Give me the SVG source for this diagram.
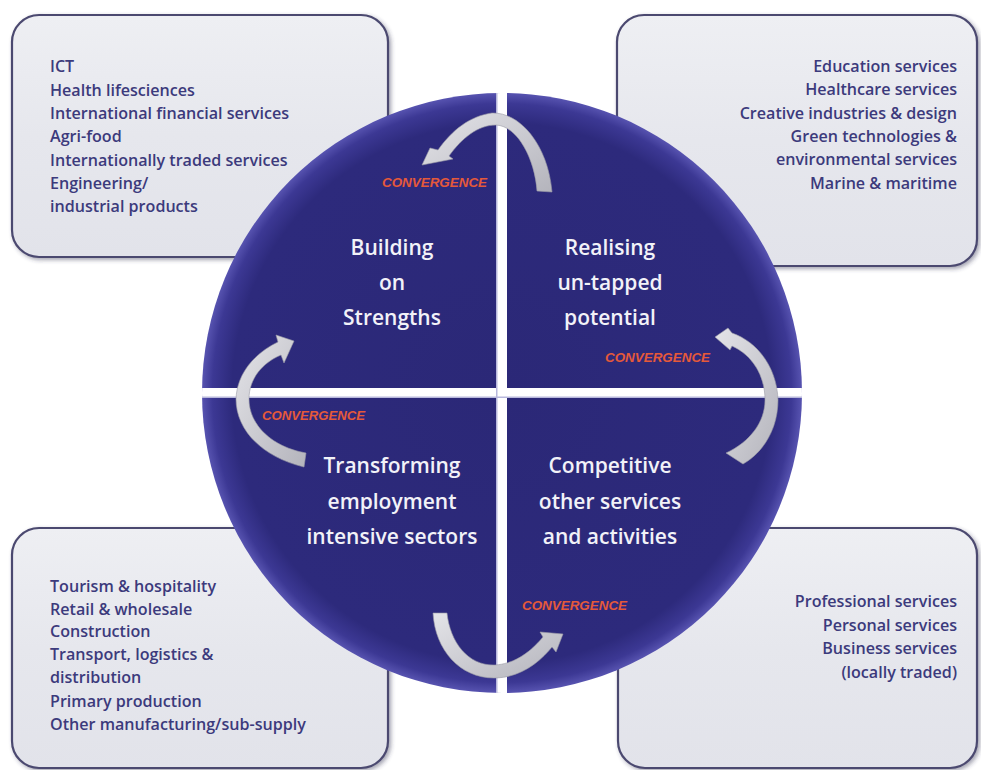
<svg xmlns="http://www.w3.org/2000/svg" width="981" height="770" viewBox="0 0 981 770">
  <defs>
    <linearGradient id="boxFill" x1="0" y1="0" x2="0" y2="1">
      <stop offset="0" stop-color="#eeeff3"/>
      <stop offset="0.5" stop-color="#e6e7ed"/>
      <stop offset="1" stop-color="#e2e3ea"/>
    </linearGradient>
    <radialGradient id="discFill" cx="0.5" cy="0.5" r="0.5">
      <stop offset="0" stop-color="#2b2877"/>
      <stop offset="0.9" stop-color="#2d2a7c"/>
      <stop offset="0.965" stop-color="#3c3894"/>
      <stop offset="1" stop-color="#5753b0"/>
    </radialGradient>
    <linearGradient id="arrowFill" x1="0" y1="0" x2="1" y2="1">
      <stop offset="0" stop-color="#e4e4e8"/>
      <stop offset="1" stop-color="#b4b4bc"/>
    </linearGradient>
    <filter id="shadow" x="-5%" y="-5%" width="115%" height="115%">
      <feDropShadow dx="2" dy="2" stdDeviation="2" flood-color="#333355" flood-opacity="0.45"/>
    </filter>
    <clipPath id="discClip">
      <circle cx="502" cy="393" r="300"/>
    </clipPath>
  </defs>
  <style>
    .box { fill: url(#boxFill); stroke: #4c4a70; stroke-width: 2.2; filter: url(#shadow); }
    .item { font-family: "Open Sans", "Liberation Sans", sans-serif; font-weight: 600; font-size: 16.1px; fill: #3c3a7c; }
    .right { text-anchor: end; }
    .title { font-family: "Open Sans", "Liberation Sans", sans-serif; font-weight: 600; font-size: 21px; fill: #f2f2f8; text-anchor: middle; }
    .arrow { fill: url(#arrowFill); stroke: #9a9aa6; stroke-width: 0.6; }
    .conv { font-family: "Liberation Sans", Arial, sans-serif; font-weight: bold; font-style: italic; font-size: 13.5px; fill: #e5593a; }
  </style>

  <!-- corner boxes -->
  <g id="box-strengths">
    <rect class="box" x="12" y="15" width="376" height="242" rx="27" ry="27"/>
    <text class="item" x="50" y="72">ICT</text>
    <text class="item" x="50" y="95.5">Health lifesciences</text>
    <text class="item" x="50" y="119">International financial services</text>
    <text class="item" x="50" y="142">Agri-food</text>
    <text class="item" x="50" y="165.5">Internationally traded services</text>
    <text class="item" x="50" y="188.5">Engineering/</text>
    <text class="item" x="50" y="212">industrial products</text>
  </g>
  <g id="box-untapped">
    <rect class="box" x="617" y="15" width="360" height="251" rx="27" ry="27"/>
    <text class="item right" x="957" y="72">Education services</text>
    <text class="item right" x="957" y="95">Healthcare services</text>
    <text class="item right" x="957" y="118.5">Creative industries &amp; design</text>
    <text class="item right" x="957" y="141.5">Green technologies &amp;</text>
    <text class="item right" x="957" y="165">environmental services</text>
    <text class="item right" x="957" y="188.5">Marine &amp; maritime</text>
  </g>
  <g id="box-employment">
    <rect class="box" x="12" y="528" width="376" height="240" rx="27" ry="27"/>
    <text class="item" x="50" y="592">Tourism &amp; hospitality</text>
    <text class="item" x="50" y="615">Retail &amp; wholesale</text>
    <text class="item" x="50" y="637">Construction</text>
    <text class="item" x="50" y="660">Transport, logistics &amp;</text>
    <text class="item" x="50" y="683">distribution</text>
    <text class="item" x="50" y="706.5">Primary production</text>
    <text class="item" x="50" y="729.5">Other manufacturing/sub-supply</text>
  </g>
  <g id="box-other">
    <rect class="box" x="618" y="528" width="359" height="240" rx="27" ry="27"/>
    <text class="item right" x="957" y="607">Professional services</text>
    <text class="item right" x="957" y="630.5">Personal services</text>
    <text class="item right" x="957" y="654">Business services</text>
    <text class="item right" x="957" y="677.5">(locally traded)</text>
  </g>

  <!-- central disc -->
  <g id="disc">
    <circle cx="502" cy="393" r="300" fill="url(#discFill)"/>
    <g clip-path="url(#discClip)">
      <rect x="496" y="80" width="11" height="630" fill="#ffffff"/>
      <rect x="190" y="388" width="630" height="10" fill="#ffffff"/>
      <rect x="496" y="80" width="1.5" height="630" fill="#b8b8dc"/>
      <rect x="190" y="396.5" width="630" height="1.5" fill="#b8b8dc"/>
    </g>
  </g>

  <g id="q-building">
    <text class="title" x="392" y="255">Building</text>
    <text class="title" x="392" y="290">on</text>
    <text class="title" x="392" y="325">Strengths</text>
  </g>
  <g id="q-realising">
    <text class="title" x="610" y="255">Realising</text>
    <text class="title" x="610" y="290">un-tapped</text>
    <text class="title" x="610" y="325">potential</text>
  </g>
  <g id="q-transforming">
    <text class="title" x="392" y="473">Transforming</text>
    <text class="title" x="392" y="509">employment</text>
    <text class="title" x="392" y="544">intensive sectors</text>
  </g>
  <g id="q-competitive">
    <text class="title" x="610" y="473">Competitive</text>
    <text class="title" x="610" y="509">other services</text>
    <text class="title" x="610" y="544">and activities</text>
  </g>

  <!-- connectors: convergence arrows -->
  <g id="connectors">
    <path class="arrow" d="M 422,165 L 430,148 L 438,150 C 452,130 470,116 492,113 C 520,112 548,145 552,192 L 537,191 C 535,160 518,126 496,125 C 478,125 462,138 449,156 L 453,159 Z"/>
    <path class="arrow" d="M 715,337 L 728,328 L 732,333 C 758,342 777,368 778,400 C 778,428 764,452 743,464 L 726,453 C 750,442 765,422 765,400 C 765,375 752,355 732,346 L 730,350 Z"/>
    <path class="arrow" d="M 563,634 L 540,632 L 543,637 C 528,655 512,664 495,665 C 468,666 450,642 447,613 L 433,613 C 435,650 460,678 494,678 C 520,678 540,662 552,647 L 556,652 Z"/>
    <path class="arrow" d="M 294,341 L 276,335 L 278,342 C 255,353 237,373 236,399 C 236,430 262,457 304,467 L 306,453 C 272,447 249,425 249,399 C 249,379 262,363 281,355 L 284,363 Z"/>
    <text class="conv" x="382" y="187" textLength="105" lengthAdjust="spacingAndGlyphs">CONVERGENCE</text>
    <text class="conv" x="605" y="362" textLength="105" lengthAdjust="spacingAndGlyphs">CONVERGENCE</text>
    <text class="conv" x="262" y="420" textLength="103" lengthAdjust="spacingAndGlyphs">CONVERGENCE</text>
    <text class="conv" x="522" y="610" textLength="105" lengthAdjust="spacingAndGlyphs">CONVERGENCE</text>
  </g>
</svg>
